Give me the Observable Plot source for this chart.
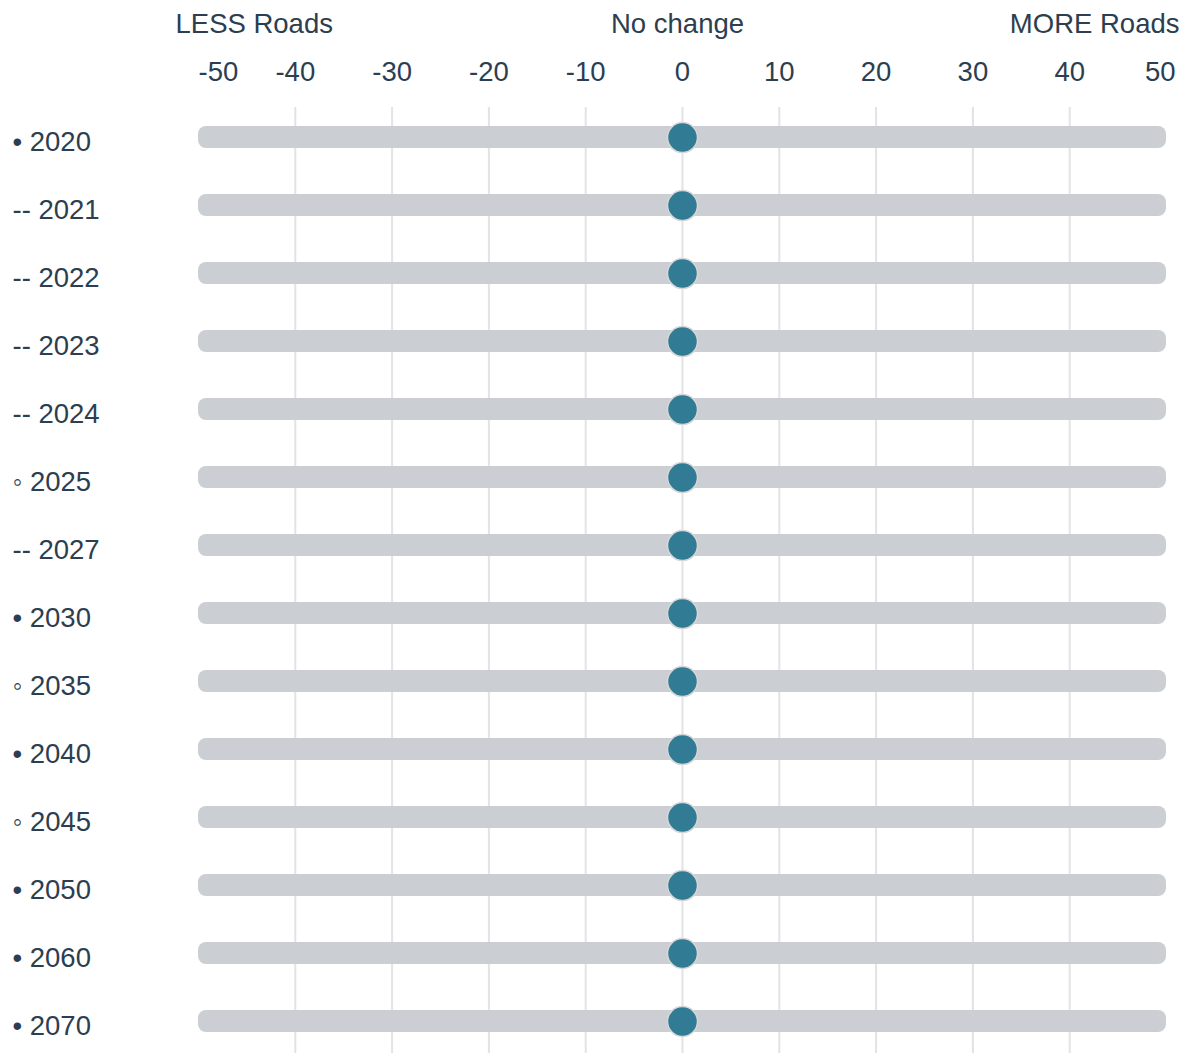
<!DOCTYPE html>
<html>
<head>
<meta charset="utf-8">
<script src="https://cdn.jsdelivr.net/npm/d3@7"></script>
<script src="https://cdn.jsdelivr.net/npm/@observablehq/plot@0.6"></script>
<style>
  html, body { margin: 0; padding: 0; background: #fff; }
  #chart { width: 1183px; height: 1053px; }
  svg { font-family: "Liberation Sans", Arial, Helvetica, sans-serif; }
</style>
</head>
<body>
<div id="chart"></div>
<script>
const years = ["2020","2021","2022","2023","2024","2025","2027","2030","2035","2040","2045","2050","2060","2070"];
const markers = ["•","--","--","--","--","◦","--","•","◦","•","◦","•","•","•"];
const values = [0,0,0,0,0,0,0,0,0,0,0,0,0,0];
const tickValues = [-50,-40,-30,-20,-10,0,10,20,30,40,50];
const gridValues = [-40,-30,-20,-10,0,10,20,30,40];
const domainMin = -50, domainMax = 50;
const headerLabels = ["LESS Roads", "No change", "MORE Roads"];

const rows = years.map((y, i) => ({year: y, label: `${markers[i]} ${y}`, value: values[i]}));
const textColor = "#2c3e50";
const fs = 27.5;

const plot = Plot.plot({
  width: 1183,
  height: 1053,
  marginLeft: 198,
  marginRight: 17,
  marginTop: 107,
  marginBottom: 0,
  style: {fontSize: `${fs}px`, color: textColor, background: "#fff"},
  x: {domain: [domainMin, domainMax], axis: null},
  y: {type: "band", domain: years, range: [126, 1032], paddingInner: 0.676, paddingOuter: 0, round: false, axis: null},
  marks: [
    Plot.ruleX(gridValues, {stroke: "#e3e3e3", strokeWidth: 2}),
    Plot.barX(rows, {y: "year", x1: () => domainMin, x2: () => domainMax, fill: "#cbced3", rx: 8}),
    Plot.dot(rows, {y: "year", x: "value", r: 15, fill: "#327b94", stroke: "#d6d6d6", strokeWidth: 1.5}),
    Plot.text(rows, {y: "year", text: "label", frameAnchor: "left", textAnchor: "start", dx: -186, dy: 5, fill: textColor, fontSize: fs}),
    // tick labels
    Plot.text(tickValues.slice(0, 1), {x: d => d, text: d => String(d), frameAnchor: "top", textAnchor: "start", dy: -46, fill: textColor, fontSize: fs}),
    Plot.text(tickValues.slice(1, -1), {x: d => d, text: d => String(d), frameAnchor: "top", textAnchor: "middle", dy: -46, fill: textColor, fontSize: fs}),
    Plot.text(tickValues.slice(-1), {x: d => d, text: d => String(d), frameAnchor: "top", textAnchor: "end", dx: 9, dy: -46, fill: textColor, fontSize: fs}),
    // header labels
    Plot.text([headerLabels[0]], {text: d => d, frameAnchor: "top-left", textAnchor: "start", dx: -23, dy: -94, fill: textColor, fontSize: fs}),
    Plot.text([headerLabels[1]], {text: d => d, frameAnchor: "top", textAnchor: "middle", dx: -5, dy: -94, fill: textColor, fontSize: fs}),
    Plot.text([headerLabels[2]], {text: d => d, frameAnchor: "top-right", textAnchor: "end", dx: 13, dy: -94, fill: textColor, fontSize: fs})
  ]
});
document.getElementById("chart").appendChild(plot);
</script>
</body>
</html>
